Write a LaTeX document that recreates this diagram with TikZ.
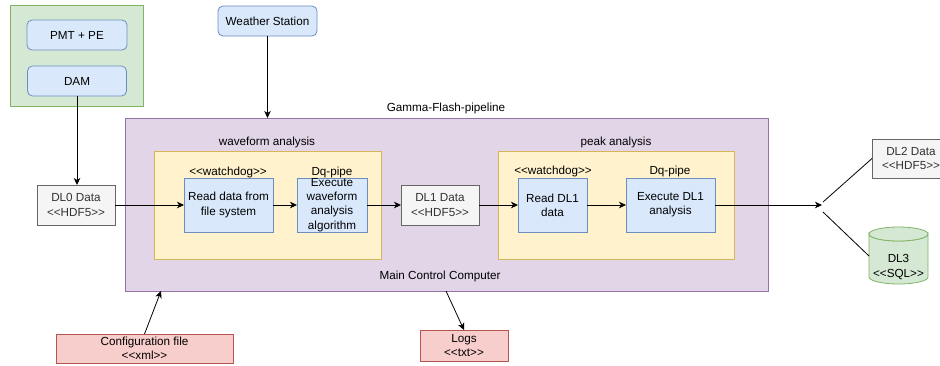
\documentclass[tikz,border=0pt]{standalone}
\usepackage{fontspec}
\setmainfont{Liberation Sans}
\usetikzlibrary{arrows.meta}
\definecolor{gfill}{HTML}{D5E8D4}\definecolor{gdraw}{HTML}{82B366}
\definecolor{bfill}{HTML}{DAE8FC}\definecolor{bdraw}{HTML}{6C8EBF}
\definecolor{pfill}{HTML}{E1D5E7}\definecolor{pdraw}{HTML}{9673A6}
\definecolor{yfill}{HTML}{FFF2CC}\definecolor{ydraw}{HTML}{D6B656}
\definecolor{sfill}{HTML}{F5F5F5}\definecolor{sdraw}{HTML}{666666}\definecolor{stext}{HTML}{333333}
\definecolor{rfill}{HTML}{F8CECC}\definecolor{rdraw}{HTML}{B85450}
\newcommand\dlt{<\kern0pt<}
\newcommand\dgt{>\kern0pt>}
\begin{document}
\begin{tikzpicture}[x=1pt,y=-1pt,
  font=\fontsize{11.7}{14.3}\selectfont,
  base/.style={inner sep=0pt, outer sep=0pt, align=center, line width=0.8pt},
  greenbox/.style={base, fill=gfill, draw=gdraw},
  bluer/.style={base, fill=bfill, draw=bdraw, rounded corners=5pt},
  bluebox/.style={base, fill=bfill, draw=bdraw},
  purplebox/.style={base, fill=pfill, draw=pdraw},
  yellowbox/.style={base, fill=yfill, draw=ydraw},
  graybox/.style={base, fill=sfill, draw=sdraw, text=stext},
  redbox/.style={base, fill=rfill, draw=rdraw},
  lbl/.style={inner sep=0pt, outer sep=0pt, align=center},
  conn/.style={line width=0.8pt, -{Stealth[length=7pt,width=6.5pt,inset=2pt]}},
  plain/.style={line width=0.8pt}]
\useasboundingbox (0,0) rectangle (940,365);

% green group
\node[greenbox, minimum width=133pt, minimum height=101pt] (grp) at (76.5,55.5) {};
\node[bluer, minimum width=100pt, minimum height=30pt] (pmt) at (77,35) {PMT + PE};
\node[bluer, minimum width=99pt, minimum height=30pt] (dam) at (77,81) {DAM};

% weather station
\node[bluer, minimum width=99pt, minimum height=30pt] (ws) at (267.5,21) {Weather Station};

% main control computer
\node[purplebox, minimum width=643pt, minimum height=173pt] (main) at (446.5,204.5) {};
\node[lbl] (title) at (446,108) {Gamma-Flash-pipeline};
\node[lbl] (mcc) at (440,276) {Main Control Computer};

% waveform analysis
\node[yellowbox, minimum width=227pt, minimum height=108pt] (wave) at (267.5,205) {};
\node[lbl] (wavet) at (267,142) {waveform analysis};
\node[bluebox, minimum width=89pt, minimum height=54pt] (read1) at (228.5,205) {Read data from\\file system};
\node[bluebox, minimum width=70pt, minimum height=54pt] (exec1) at (332,205) {Execute\\waveform\\analysis\\algorithm};
\node[lbl] (wd1) at (228,172) {\dlt watchdog\dgt};
\node[lbl] (dq1) at (332,172) {Dq-pipe};

% peak analysis
\node[yellowbox, minimum width=236pt, minimum height=108pt] (peak) at (616,205) {};
\node[lbl] (peakt) at (616,142) {peak analysis};
\node[bluebox, minimum width=69pt, minimum height=54pt] (read2) at (552.5,205) {Read DL1\\data};
\node[bluebox, minimum width=89pt, minimum height=54pt] (exec2) at (670.5,205) {Execute DL1\\analysis};
\node[lbl] (wd2) at (553,171) {\dlt watchdog\dgt};
\node[lbl] (dq2) at (670,171) {Dq-pipe};

% data boxes
\node[graybox, minimum width=78pt, minimum height=40pt] (dl0) at (76,205) {DL0 Data\\\dlt HDF5\dgt};
\node[graybox, minimum width=78pt, minimum height=40pt] (dl1) at (440,205) {DL1 Data\\\dlt HDF5\dgt};
\node[graybox, minimum width=78pt, minimum height=39pt] (dl2) at (911,158.5) {DL2 Data\\\dlt HDF5\dgt};

% DL3 cylinder
\path[fill=gfill, draw=gdraw, line width=0.8pt]
  (869,234) -- (869,277) arc[start angle=180, end angle=360, x radius=29.5pt, y radius=7pt]
  -- (928,234) arc[start angle=0, end angle=-180, x radius=29.5pt, y radius=7pt] -- cycle;
\path[fill=gfill, draw=gdraw, line width=0.8pt] (898.5,234) ellipse[x radius=29.5pt, y radius=7pt];
\node[lbl] (dl3) at (898.5,267) {DL3\\\dlt SQL\dgt};
\coordinate (dl3in) at (869,256);

% config and logs
\node[redbox, minimum width=177pt, minimum height=29pt] (cfg) at (144.5,348.5) {Configuration file\\\dlt xml\dgt};
\node[redbox, minimum width=88pt, minimum height=31pt] (logs) at (464,345.5) {Logs\\\dlt txt\dgt};

% connectors
\coordinate (jn) at (822,205);
\coordinate (j1) at (823,202);
\coordinate (j2) at (823,212);
\coordinate (cfgin) at (161,291);
\coordinate (logout) at (446,291);

\draw[conn] (dam.south) -- (dam.south |- dl0.north);
\draw[conn] (ws.south) -- (ws.south |- main.north);
\draw[conn] (dl0.east) -- (read1.west);
\draw[conn] (read1.east) -- (exec1.west);
\draw[conn] (exec1.east) -- (dl1.west);
\draw[conn] (dl1.east) -- (read2.west);
\draw[conn] (read2.east) -- (exec2.west);
\draw[conn] (exec2.east) -- (jn);
\draw[plain] (j1) -- (dl2.west);
\draw[plain] (j2) -- (dl3in);
\draw[conn] (cfg.north) -- (cfgin);
\draw[conn] (logout) -- (logs.north);
\end{tikzpicture}
\end{document}
